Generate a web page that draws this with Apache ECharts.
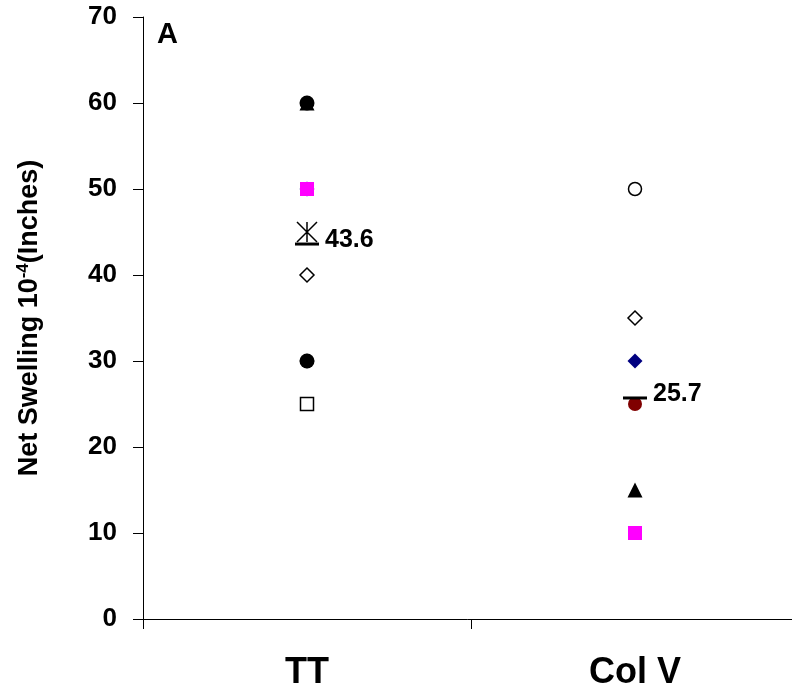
<!DOCTYPE html>
<html>
<head>
<meta charset="utf-8">
<script src="https://cdn.jsdelivr.net/npm/echarts@6/dist/echarts.min.js"></script>
<style>html,body{margin:0;padding:0;background:#fff}#c{width:792px;height:691px}</style>
</head>
<body>
<div id="c"></div>
<script>
const categories = ['TT', 'Col V'];
const yTicks = [0, 10, 20, 30, 40, 50, 60, 70];
const navyDiamond = [['TT', 50], ['Col V', 30]];
const magentaSquare = [['TT', 50], ['Col V', 10]];
const blackTriangle = [['TT', 60], ['Col V', 15]];
const blackDiamond = [['TT', 30]];
const blackCircle = [['TT', 60], ['TT', 30]];
const redCircle = [['Col V', 25]];
const openSquare = [['TT', 25]];
const openDiamond = [['TT', 40], ['Col V', 35]];
const openCircle = [['Col V', 50]];
const starMarker = [['TT', 45]];
const means = [['TT', 43.6], ['Col V', 25.7]];

const chart = echarts.init(document.getElementById('c'));
const font = 'Arial, "Liberation Sans", sans-serif';
const open = {color: '#fff', borderColor: '#000', borderWidth: 1.5, opacity: 1};
function sc(data, symbol, size, style, z) {
  style.opacity = 1;
  return {type: 'scatter', data: data, symbol: symbol, symbolSize: size, itemStyle: style, z: z || 2};
}
chart.setOption({
  animation: false,
  grid: {left: 143, top: 17, width: 656, bottom: 72, outerBoundsMode: 'none', containLabel: false},
  xAxis: {
    type: 'category', data: categories, boundaryGap: true,
    axisLine: {lineStyle: {color: '#000', width: 1}},
    axisTick: {show: true, length: 10, lineStyle: {color: '#000'}},
    axisLabel: {color: '#000', fontFamily: font, fontWeight: 'bold', fontSize: 36, margin: 36},
    splitLine: {show: false}
  },
  yAxis: {
    type: 'value', min: yTicks[0], max: yTicks[yTicks.length - 1], interval: 10,
    axisLine: {show: true, lineStyle: {color: '#000', width: 1}},
    axisTick: {show: true, length: 10, lineStyle: {color: '#000'}},
    axisLabel: {color: '#000', fontFamily: font, fontWeight: 'bold', fontSize: 26, margin: 26},
    splitLine: {show: false},
    name: '{a|Net Swelling 10}{s|-4}{a|(Inches)}',
    nameLocation: 'middle', nameGap: 99, nameRotate: 90,
    nameTextStyle: {
      rich: {
        a: {fontFamily: font, fontWeight: 'bold', fontSize: 27, color: '#000'},
        s: {fontFamily: font, fontWeight: 'bold', fontSize: 17, color: '#000', verticalAlign: 'top', padding: [0, 0, 12, 0]}
      }
    }
  },
  graphic: [{type: 'text', left: 157, top: 20, style: {text: 'A', font: 'bold 29px ' + font, fill: '#000'}}],
  series: [
    sc(navyDiamond, 'diamond', 15, {color: '#000080'}),
    sc(magentaSquare, 'rect', 14, {color: '#ff00ff'}),
    sc(blackDiamond, 'diamond', 15, {color: '#000'}),
    sc(blackTriangle, 'triangle', 15, {color: '#000'}),
    sc(blackCircle, 'circle', 15, {color: '#000'}),
    sc(redCircle, 'circle', 14, {color: '#800000'}),
    sc(openSquare, 'rect', 13, open),
    sc(openDiamond, 'diamond', 14, open),
    sc(openCircle, 'circle', 13, open),
    sc(starMarker, 'path://M0,0L20,20M20,0L0,20M10,0L10,20', 20, {color: 'none', borderColor: '#000', borderWidth: 1.5}),
    {
      type: 'scatter', data: means, symbol: 'rect', symbolSize: [24, 3],
      itemStyle: {color: '#000', opacity: 1}, z: 3,
      label: {show: true, position: 'right', distance: 6, formatter: p => p.value[1].toFixed(1),
        fontFamily: font, fontWeight: 'bold', fontSize: 25, color: '#000', offset: [0, -4]}
    }
  ]
});
</script>
</body>
</html>
